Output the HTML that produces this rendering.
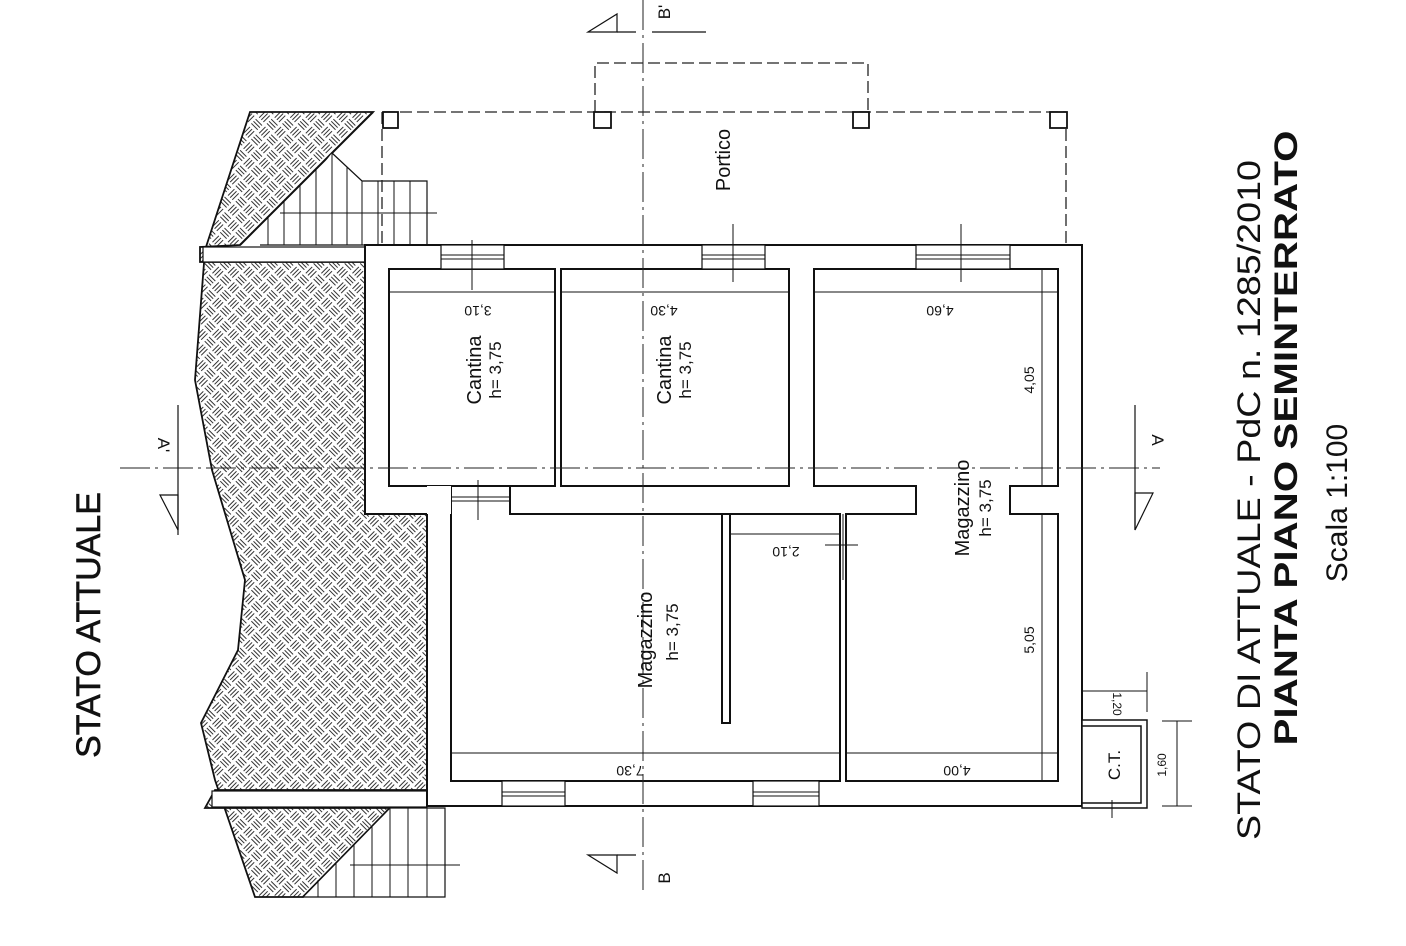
<!DOCTYPE html>
<html><head><meta charset="utf-8"><style>
html,body{margin:0;padding:0;background:#fff;}
svg{display:block;}
text{font-family:"Liberation Sans",sans-serif;fill:#111;}
</style></head><body>
<svg width="1406" height="946" viewBox="0 0 1406 946" xmlns="http://www.w3.org/2000/svg">
<defs>
<pattern id="bw" width="22" height="22" patternUnits="userSpaceOnUse" patternTransform="rotate(45)">
<rect width="22" height="22" fill="#fff"/>
<g stroke="#333" stroke-width="1">
<path d="M2.5 1V10 M5.5 1V10 M8.5 1V10"/>
<path d="M12 2.5H21 M12 5.5H21 M12 8.5H21"/>
<path d="M1 13.5H10 M1 16.5H10 M1 19.5H10"/>
<path d="M13.5 12V21 M16.5 12V21 M19.5 12V21"/>
</g>
</pattern>
</defs>

<!-- terrain -->
<path d="M250 112 L373 112 L240 245 L200 247 L200 262 L365 262 L365 514 L427 514 L427 790 L215 790 L205 808 L390 808 L303 897 L255 897 L215 780 L201 723 L238 650 L245 580 L212 470 L195 380 L205 250 Z" fill="url(#bw)" stroke="#111" stroke-width="1.8"/>
<rect x="203" y="247" width="162" height="15" fill="#fff" stroke="#111" stroke-width="1.2"/>
<rect x="212" y="791" width="215" height="16" fill="#fff" stroke="#111" stroke-width="1.2"/>
<!-- stairs top -->
<path d="M373 112 L240 245" stroke="#111" stroke-width="2"/>
<path d="M332 153 L362 181 L427 181 L427 245 L260 245" fill="#fff" stroke="#111" stroke-width="1.2"/>
<g stroke="#111" stroke-width="1">
<line x1="268" y1="218" x2="268" y2="245"/><line x1="284" y1="202" x2="284" y2="245"/><line x1="300" y1="186" x2="300" y2="245"/><line x1="316" y1="170" x2="316" y2="245"/><line x1="332" y1="153" x2="332" y2="245"/><line x1="347" y1="167" x2="347" y2="245"/><line x1="362" y1="181" x2="362" y2="245"/><line x1="378" y1="181" x2="378" y2="245"/><line x1="394" y1="181" x2="394" y2="245"/><line x1="410" y1="181" x2="410" y2="245"/>
<line x1="280" y1="213" x2="437" y2="213"/>
</g>
<!-- stairs bottom -->
<path d="M390 808 L303 897" stroke="#111" stroke-width="2"/>
<path d="M390 808 L445 808 L445 897 L303 897 Z" fill="#fff" stroke="#111" stroke-width="1.2"/>
<g stroke="#111" stroke-width="1">
<line x1="318" y1="880" x2="318" y2="897"/><line x1="336" y1="862" x2="336" y2="897"/><line x1="354" y1="844" x2="354" y2="897"/><line x1="372" y1="826" x2="372" y2="897"/><line x1="390" y1="808" x2="390" y2="897"/><line x1="408" y1="808" x2="408" y2="897"/><line x1="427" y1="808" x2="427" y2="897"/>
<line x1="350" y1="865" x2="460" y2="865"/>
</g>

<!-- portico dashed -->
<g fill="none" stroke="#222" stroke-width="1.3" stroke-dasharray="12 5">
<path d="M383 112 L1066 112"/>
<path d="M595 112 L595 63 L868 63 L868 112"/>
<path d="M1066 112 L1066 245"/>
<path d="M382 112 L382 245"/>
</g>
<g fill="#fff" stroke="#111" stroke-width="1.8">
<rect x="383" y="112" width="15" height="16"/>
<rect x="594" y="112" width="17" height="16"/>
<rect x="853" y="112" width="16" height="16"/>
<rect x="1050" y="112" width="17" height="16"/>
</g>

<!-- outer walls -->
<path d="M365 245 H1082 V806 H427 V514 H365 Z" fill="#fff" stroke="#111" stroke-width="2"/>
<g fill="#fff" stroke="#111" stroke-width="2">
<rect x="389" y="269" width="166" height="217"/>
<rect x="561" y="269" width="228" height="217"/>
<path d="M814 269 H1058 V486 H1010 V514 H1058 V781 H846 V514 H916 V486 H814 Z"/>
<path d="M451 486 H510 V514 H840 V781 H451 Z"/>
<rect x="722" y="514" width="8" height="209"/>
</g>
<!-- windows -->
<g fill="#fff" stroke="#111" stroke-width="1.2">
<rect x="441" y="245" width="63" height="24"/>
<rect x="702" y="245" width="63" height="24"/>
<rect x="916" y="245" width="94" height="24"/>
<rect x="502" y="781" width="63" height="25"/>
<rect x="753" y="781" width="66" height="25"/>
<rect x="427" y="486" width="24" height="28" stroke="none"/>
</g>
<g stroke="#111" stroke-width="1">
<line x1="441" y1="255" x2="504" y2="255"/><line x1="441" y1="259" x2="504" y2="259"/>
<line x1="702" y1="255" x2="765" y2="255"/><line x1="702" y1="259" x2="765" y2="259"/>
<line x1="916" y1="255" x2="1010" y2="255"/><line x1="916" y1="259" x2="1010" y2="259"/>
<line x1="502" y1="792" x2="565" y2="792"/><line x1="502" y1="796" x2="565" y2="796"/>
<line x1="753" y1="792" x2="819" y2="792"/><line x1="753" y1="796" x2="819" y2="796"/>
<line x1="451" y1="497" x2="510" y2="497"/><line x1="451" y1="501" x2="510" y2="501"/>
<line x1="472" y1="240" x2="472" y2="290"/>
<line x1="733" y1="224" x2="733" y2="282"/>
<line x1="961" y1="224" x2="961" y2="282"/>
<line x1="478" y1="480" x2="478" y2="520"/>
<line x1="825" y1="545" x2="858" y2="545"/>
<line x1="843" y1="514" x2="843" y2="580"/>
</g>

<!-- CT -->
<rect x="1082" y="720" width="65" height="88" fill="#fff" stroke="#111" stroke-width="1.5"/>
<rect x="1082" y="726" width="59" height="77" fill="#fff" stroke="#111" stroke-width="1.5"/>
<line x1="1112" y1="800" x2="1112" y2="818" stroke="#111"/>
<text transform="translate(1120 765) rotate(-90)" text-anchor="middle" font-size="17">C.T.</text>
<g stroke="#111" stroke-width="1">
<line x1="1083" y1="691" x2="1147" y2="691"/><line x1="1147" y1="672" x2="1147" y2="712"/>
<line x1="1162" y1="721" x2="1192" y2="721"/><line x1="1162" y1="806" x2="1192" y2="806"/>
<line x1="1177" y1="721" x2="1177" y2="806"/>
</g>
<text transform="translate(1113 704) rotate(90)" text-anchor="middle" font-size="12">1,20</text>
<text transform="translate(1166 765) rotate(-90)" text-anchor="middle" font-size="12">1,60</text>

<!-- axes -->
<g stroke="#222" stroke-width="1" stroke-dasharray="30 5 3 5" fill="none">
<line x1="643" y1="0" x2="643" y2="890"/>
<line x1="120" y1="468" x2="1160" y2="468"/>
</g>
<g stroke="#111" stroke-width="1.2" fill="none">
<path d="M588 32 L617 14 L617 32 Z"/><line x1="617" y1="32" x2="636" y2="32"/><line x1="652" y1="32" x2="706" y2="32"/>
<path d="M588 855 L617 855 L617 873 Z"/><line x1="617" y1="855" x2="636" y2="855"/>
<path d="M160 495 L178 495 L178 530 Z"/><line x1="178" y1="405" x2="178" y2="535"/>
<path d="M1135 493 L1153 493 L1135 530 Z"/><line x1="1135" y1="405" x2="1135" y2="530"/>
</g>
<text transform="translate(670 12) rotate(-90)" text-anchor="middle" font-size="17">B'</text>
<text transform="translate(670 878) rotate(-90)" text-anchor="middle" font-size="17">B</text>
<text transform="translate(158 445) rotate(90)" text-anchor="middle" font-size="17">A'</text>
<text transform="translate(1152 440) rotate(90)" text-anchor="middle" font-size="17">A</text>

<!-- dimension lines -->
<g stroke="#111" stroke-width="1">
<line x1="389" y1="292" x2="555" y2="292"/>
<line x1="561" y1="292" x2="789" y2="292"/>
<line x1="814" y1="292" x2="1058" y2="292"/>
<line x1="730" y1="534" x2="840" y2="534"/>
<line x1="451" y1="753" x2="840" y2="753"/>
<line x1="846" y1="753" x2="1058" y2="753"/>
<line x1="1042" y1="269" x2="1042" y2="486"/>
<line x1="1042" y1="514" x2="1042" y2="781"/>
</g>
<g font-size="14">
<text transform="translate(478 306) rotate(180)" text-anchor="middle">3,10</text>
<text transform="translate(664 306) rotate(180)" text-anchor="middle">4,30</text>
<text transform="translate(940 306) rotate(180)" text-anchor="middle">4,60</text>
<text transform="translate(786 547) rotate(180)" text-anchor="middle">2,10</text>
<text transform="translate(630 766) rotate(180)" text-anchor="middle">7,30</text>
<text transform="translate(957 766) rotate(180)" text-anchor="middle">4,00</text>
<text transform="translate(1034 380) rotate(-90)" text-anchor="middle">4,05</text>
<text transform="translate(1034 640) rotate(-90)" text-anchor="middle">5,05</text>
</g>

<g font-size="20">
<text transform="translate(481 370) rotate(-90)" text-anchor="middle">Cantina</text>
<text transform="translate(671 370) rotate(-90)" text-anchor="middle">Cantina</text>
<text transform="translate(652 640) rotate(-90)" text-anchor="middle">Magazzino</text>
<text transform="translate(969 508) rotate(-90)" text-anchor="middle">Magazzino</text>
<text transform="translate(730 160) rotate(-90)" text-anchor="middle">Portico</text>
</g>
<g font-size="17">
<text transform="translate(501 370) rotate(-90)" text-anchor="middle">h= 3,75</text>
<text transform="translate(691 370) rotate(-90)" text-anchor="middle">h= 3,75</text>
<text transform="translate(678 632) rotate(-90)" text-anchor="middle">h= 3,75</text>
<text transform="translate(991 508) rotate(-90)" text-anchor="middle">h= 3,75</text>
</g>

<text transform="translate(100 625) rotate(-90)" text-anchor="middle" font-size="34" stroke="#111" stroke-width="0.6">STATO ATTUALE</text>
<text transform="translate(1260 500) rotate(-90)" text-anchor="middle" font-size="32" textLength="680" lengthAdjust="spacingAndGlyphs">STATO DI ATTUALE - PdC n. 1285/2010</text>
<text transform="translate(1297 438) rotate(-90)" text-anchor="middle" font-size="32" font-weight="bold" textLength="615" lengthAdjust="spacingAndGlyphs">PIANTA PIANO SEMINTERRATO</text>
<text transform="translate(1347 503) rotate(-90)" text-anchor="middle" font-size="30">Scala 1:100</text>
</svg>
</body></html>
